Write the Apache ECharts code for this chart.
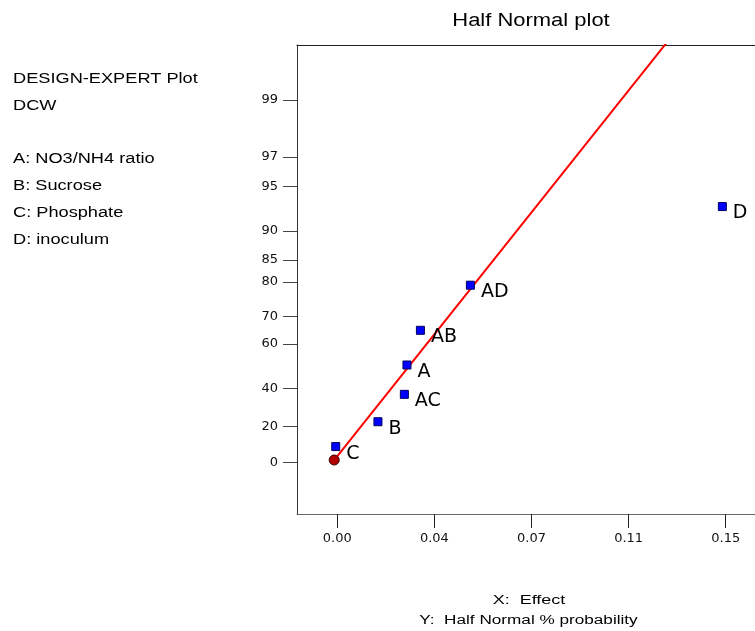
<!DOCTYPE html>
<html>
<head>
<meta charset="utf-8">
<script src="https://cdn.jsdelivr.net/npm/echarts@6/dist/echarts.min.js"></script>
<style>
html,body{margin:0;padding:0;background:#fff;}
#chart{width:755px;height:631px;}
</style>
</head>
<body>
<div id="chart"></div>
<script>
// ---- data ----
var effectNames = ['C', 'B', 'AC', 'A', 'AB', 'AD', 'D'];
var effectX = [-0.0006, 0.0157, 0.0259, 0.0269, 0.0321, 0.0514, 0.1487];
var effectP = [8.9, 22.7, 37.1, 51.1, 65.2, 79.2, 93.1];          // half normal % probability
var originX = [-0.0012];
var originP = [1.3];
var lineX = [-0.0012, 0.1318];
var lineP = [1.3, 99.8];
var yTickLabels = [0, 20, 40, 60, 70, 80, 85, 90, 95, 97, 99];
var xTickValues = [0, 0.0375, 0.075, 0.1125, 0.15];
var xTickLabels = ['0.00', '0.04', '0.07', '0.11', '0.15'];
var legendLines = ['DESIGN-EXPERT Plot', 'DCW', '', 'A: NO3/NH4 ratio', 'B: Sucrose', 'C: Phosphate', 'D: inoculum'];

// inverse standard normal CDF (Acklam) - used for the half-normal probability axis
function invNorm(p) {
  var a = [-3.969683028665376e+01, 2.209460984245205e+02, -2.759285104469687e+02, 1.383577518672690e+02, -3.066479806614716e+01, 2.506628277459239e+00];
  var b = [-5.447609879822406e+01, 1.615858368580409e+02, -1.556989798598866e+02, 6.680131188771972e+01, -1.328068155288572e+01];
  var c = [-7.784894002430293e-03, -3.223964580411365e-01, -2.400758277161838e+00, -2.549732539343734e+00, 4.374664141464968e+00, 2.938163982698783e+00];
  var d = [7.784695709041462e-03, 3.224671290700398e-01, 2.445134137142996e+00, 3.754408661907416e+00];
  var pl = 0.02425, q, r;
  if (p < pl) {
    q = Math.sqrt(-2 * Math.log(p));
    return (((((c[0]*q+c[1])*q+c[2])*q+c[3])*q+c[4])*q+c[5]) / ((((d[0]*q+d[1])*q+d[2])*q+d[3])*q+1);
  } else if (p <= 1 - pl) {
    q = p - 0.5; r = q * q;
    return (((((a[0]*r+a[1])*r+a[2])*r+a[3])*r+a[4])*r+a[5])*q / (((((b[0]*r+b[1])*r+b[2])*r+b[3])*r+b[4])*r+1);
  } else {
    q = Math.sqrt(-2 * Math.log(1 - p));
    return -(((((c[0]*q+c[1])*q+c[2])*q+c[3])*q+c[4])*q+c[5]) / ((((d[0]*q+d[1])*q+d[2])*q+d[3])*q+1);
  }
}
function toZ(pct) { return pct <= 0 ? 0 : invNorm((1 + pct / 100) / 2); }

var yTickZ = yTickLabels.map(toZ);
function nearestIndex(arr, v) {
  var best = 0, bd = Infinity;
  for (var i = 0; i < arr.length; i++) { var dd = Math.abs(arr[i] - v); if (dd < bd) { bd = dd; best = i; } }
  return best;
}

var chart = echarts.init(document.getElementById('chart'), null, {renderer: 'canvas'});

var graphics = [];
graphics.push({
  type: 'text', x: 531, y: 21, scaleX: 1.22,
  style: {text: 'Half Normal plot', font: '18px "Liberation Sans", Arial, sans-serif', fill: '#000', align: 'center', verticalAlign: 'middle'}
});
var legendY = [79.5, 106.5, 133, 159.5, 186.3, 213.3, 240.3];
legendLines.forEach(function (t, i) {
  if (!t) return;
  graphics.push({
    type: 'text', x: 13, y: legendY[i], scaleX: 1.3,
    style: {text: t, font: '14px "Liberation Sans", Arial, sans-serif', fill: '#000', align: 'left', verticalAlign: 'middle'}
  });
});
graphics.push({
  type: 'text', x: 529, y: 601, scaleX: 1.5,
  style: {text: 'X:  Effect', font: '12px "Liberation Sans", Arial, sans-serif', fill: '#000', align: 'center', verticalAlign: 'middle'}
});
graphics.push({
  type: 'text', x: 528.5, y: 621, scaleX: 1.43,
  style: {text: 'Y:  Half Normal % probability', font: '12px "Liberation Sans", Arial, sans-serif', fill: '#000', align: 'center', verticalAlign: 'middle'}
});

var option = {
  animation: false,
  backgroundColor: '#fff',
  grid: {left: 297, top: 45, right: 0, bottom: 117, containLabel: false},
  xAxis: [{
    type: 'value', position: 'bottom', min: -0.01556, max: 0.1613,
    axisLine: {show: true, onZero: false, lineStyle: {color: '#666', width: 1}},
    axisTick: {show: true, length: 14, customValues: xTickValues, lineStyle: {color: '#222'}},
    axisLabel: {show: true, margin: 18, customValues: xTickValues,
      formatter: function (v) { return xTickLabels[nearestIndex(xTickValues, v)]; },
      fontFamily: '"DejaVu Sans", sans-serif', fontSize: 13, color: '#111'},
    splitLine: {show: false}
  }, {
    type: 'value', position: 'top', min: -0.01556, max: 0.1613,
    axisLine: {show: true, onZero: false, lineStyle: {color: '#222', width: 1}},
    axisTick: {show: false}, axisLabel: {show: false}, splitLine: {show: false}
  }],
  yAxis: {
    type: 'value', min: -0.3676, max: 2.967,
    axisLine: {show: true, onZero: false, lineStyle: {color: '#333', width: 1}},
    axisTick: {show: true, length: 14, customValues: yTickZ, lineStyle: {color: '#444'}},
    axisLabel: {show: true, margin: 19, customValues: yTickZ,
      formatter: function (v) { return String(yTickLabels[nearestIndex(yTickZ, v)]); },
      fontFamily: '"DejaVu Sans", sans-serif', fontSize: 13, color: '#111'},
    splitLine: {show: false}
  },
  graphic: graphics,
  series: [{
    type: 'line', xAxisIndex: 0, z: 2, clip: true,
    data: lineX.map(function (x, i) { return [x, toZ(lineP[i])]; }),
    symbol: 'none', lineStyle: {color: '#ff0000', width: 2}
  }, {
    type: 'scatter', xAxisIndex: 0, z: 3,
    data: originX.map(function (x, i) { return [x, toZ(originP[i])]; }),
    symbol: 'circle', symbolSize: 10,
    itemStyle: {color: '#b00000', borderColor: '#3a0000', borderWidth: 1, opacity: 1}
  }, {
    type: 'scatter', xAxisIndex: 0, z: 4,
    data: effectX.map(function (x, i) { return {value: [x, toZ(effectP[i])], name: effectNames[i]}; }),
    symbol: 'rect', symbolSize: 8,
    itemStyle: {color: '#0000ff', borderColor: '#000060', borderWidth: 1, opacity: 1},
    label: {show: true, position: 'right', distance: 6, offset: [0, 7], formatter: '{b}',
      fontFamily: '"DejaVu Sans", sans-serif', fontSize: 19, color: '#000'}
  }]
};
chart.setOption(option);
</script>
</body>
</html>
